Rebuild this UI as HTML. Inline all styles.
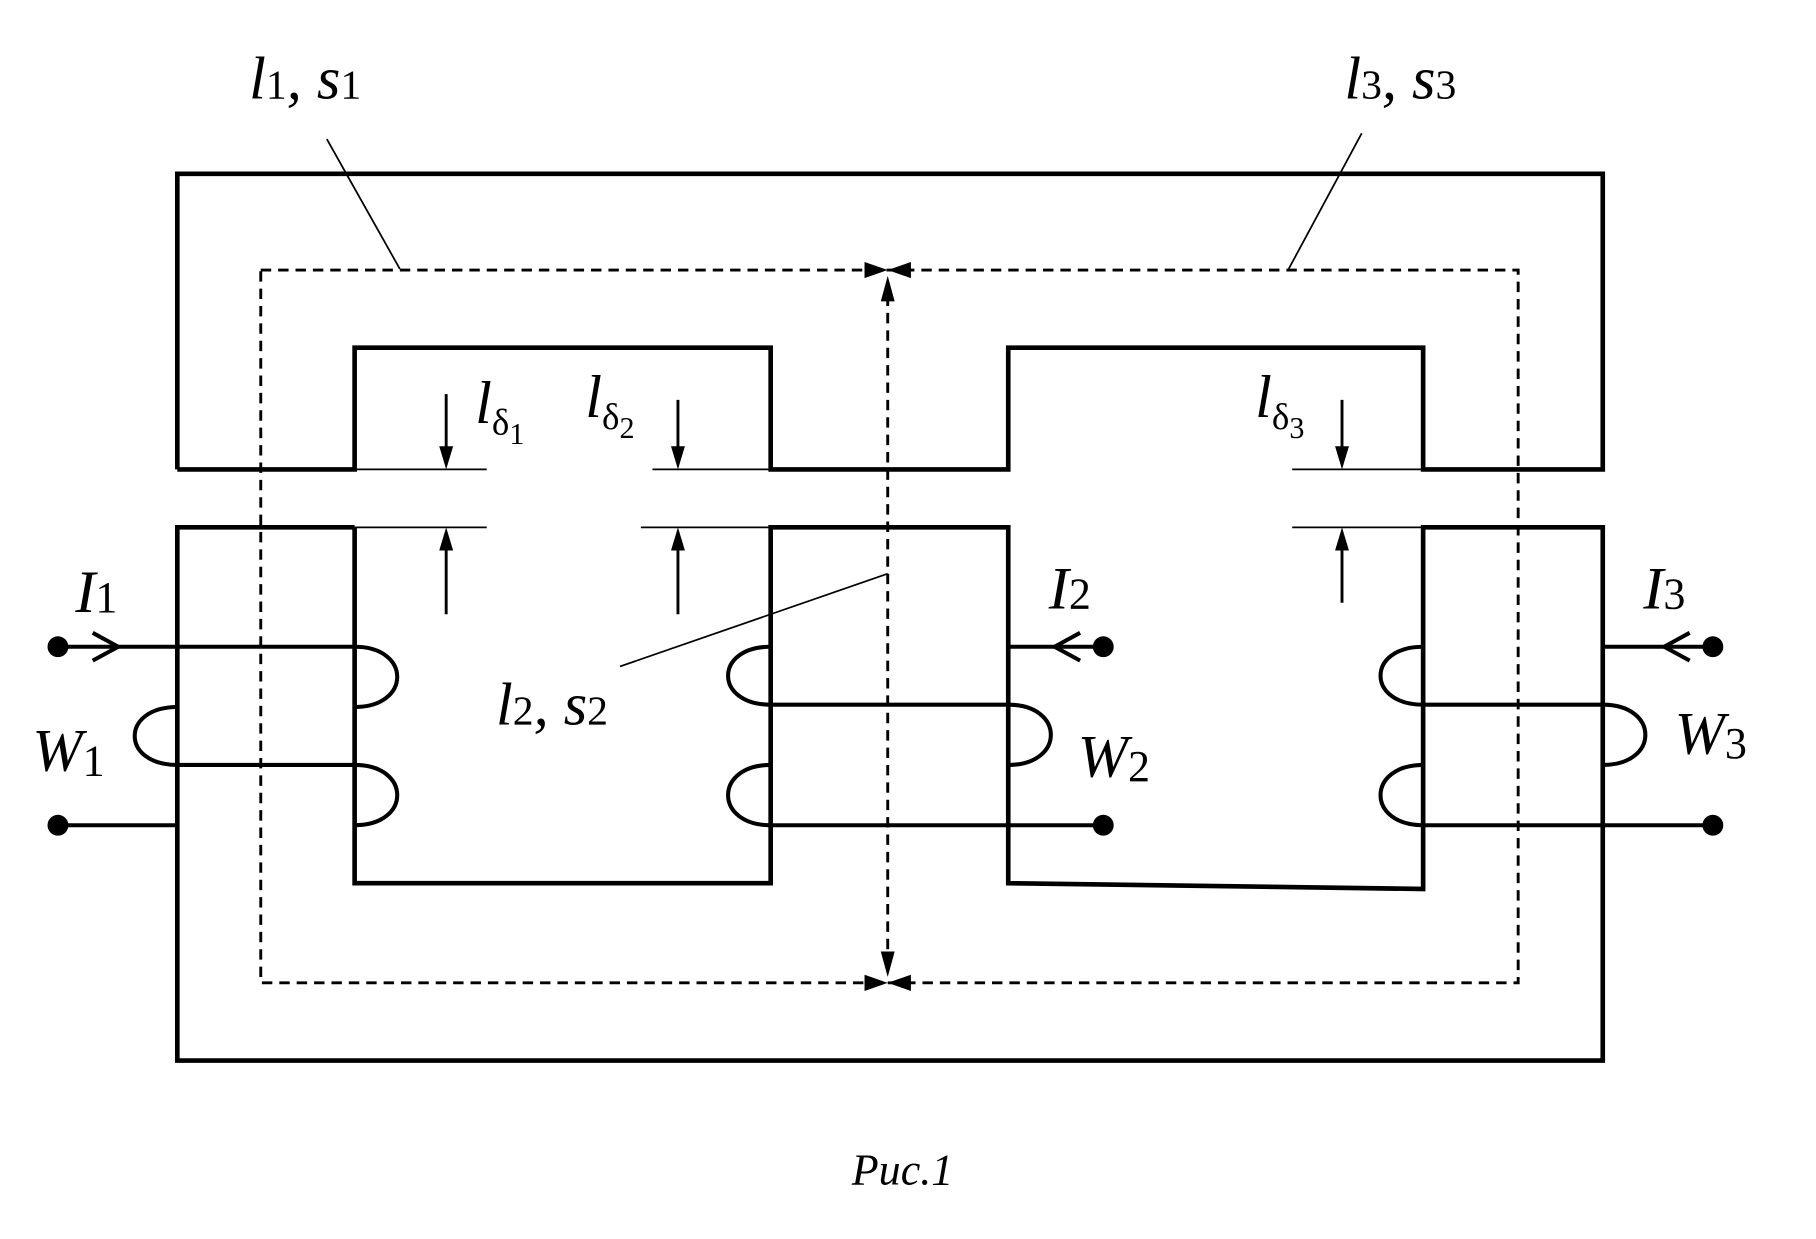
<!DOCTYPE html>
<html><head><meta charset="utf-8"><style>html,body{margin:0;padding:0;background:#fff}svg{display:block}</style></head>
<body>
<svg width="1816" height="1239" viewBox="0 0 1567 1069" preserveAspectRatio="none" xmlns="http://www.w3.org/2000/svg">
<g fill="none" stroke="#000" stroke-width="4">
<polyline points="153,405 153,150 1383,150 1383,405 1228,405 1228,300 870,300 870,405 665,405 665,300 306,300 306,405 153,405"/>
<polyline points="306,455 153,455 153,915 1383,915 1383,455 1228,455 1228,767 870,762 870,455 665,455 665,762 306,762 306,455"/>
</g>
<g stroke="#000" stroke-width="1.5">
<line x1="306" y1="405" x2="420" y2="405"/><line x1="563" y1="405" x2="665" y2="405"/><line x1="1115" y1="405" x2="1228" y2="405"/>
<line x1="306" y1="455" x2="420" y2="455"/><line x1="553" y1="455" x2="665" y2="455"/><line x1="1115" y1="455" x2="1228" y2="455"/>
<line x1="282" y1="120" x2="345" y2="232"/><line x1="1175" y1="115" x2="1112" y2="232"/><line x1="766" y1="495" x2="535" y2="575"/>
</g>
<g fill="none" stroke="#000" stroke-width="2.5" stroke-dasharray="9,6">
<rect x="225" y="233" width="1085" height="615"/>
<line x1="766" y1="255" x2="766" y2="830"/>
</g>
<g stroke="#000" stroke-width="2.5">
<line x1="385" y1="340" x2="385" y2="395"/><line x1="385" y1="530" x2="385" y2="465"/>
<line x1="585" y1="345" x2="585" y2="395"/><line x1="585" y1="530" x2="585" y2="465"/>
<line x1="1158" y1="345" x2="1158" y2="395"/><line x1="1158" y1="520" x2="1158" y2="465"/>
</g>
<g fill="#000">
<polygon points="385,405 379,385 391,385"/><polygon points="385,455 379,475 391,475"/>
<polygon points="585,405 579,385 591,385"/><polygon points="585,455 579,475 591,475"/>
<polygon points="1158,405 1152,385 1164,385"/><polygon points="1158,455 1152,475 1164,475"/>
<polygon points="766,238 760,260 772,260"/><polygon points="766,843 760,821 772,821"/>
<polygon points="766,233 746,226 746,240"/><polygon points="766,233 786,226 786,240"/>
<polygon points="766,848 746,841 746,855"/><polygon points="766,848 786,841 786,855"/>
<circle cx="50" cy="558" r="9"/><circle cx="50" cy="712" r="9"/>
<circle cx="952" cy="558" r="9"/><circle cx="952" cy="712" r="9"/>
<circle cx="1478" cy="558" r="9"/><circle cx="1478" cy="712" r="9"/>
</g>
<g fill="none" stroke="#000" stroke-width="3.5">
<line x1="50" y1="558" x2="306" y2="558"/><line x1="153" y1="660" x2="306" y2="660"/><line x1="50" y1="712" x2="153" y2="712"/>
<polyline points="80,546 102,558 80,570"/>
<path d="M306,558 C355,558 355,610 306,610"/><path d="M153,610 C104,610 104,660 153,660"/><path d="M306,660 C355,660 355,712 306,712"/>
<line x1="870" y1="558" x2="952" y2="558"/><polyline points="932,546 910,558 932,570"/>
<path d="M665,558 C616,558 616,608 665,608"/><line x1="665" y1="608" x2="870" y2="608"/>
<path d="M870,608 C919,608 919,660 870,660"/><path d="M665,660 C616,660 616,712 665,712"/><line x1="665" y1="712" x2="952" y2="712"/>
<line x1="1383" y1="558" x2="1478" y2="558"/><polyline points="1458,546 1436,558 1458,570"/>
<path d="M1228,558 C1179,558 1179,608 1228,608"/><line x1="1228" y1="608" x2="1383" y2="608"/>
<path d="M1383,608 C1432,608 1432,660 1383,660"/><path d="M1228,660 C1179,660 1179,712 1228,712"/><line x1="1228" y1="712" x2="1478" y2="712"/>
</g>
<g font-family="Liberation Serif, serif" font-style="italic" fill="#000" font-size="52">
<text x="215" y="85">l<tspan font-size="36" font-style="normal">1</tspan>, s<tspan font-size="36" font-style="normal">1</tspan></text>
<text x="1160" y="85">l<tspan font-size="36" font-style="normal">3</tspan>, s<tspan font-size="36" font-style="normal">3</tspan></text>
<text x="428" y="625">l<tspan font-size="36" font-style="normal">2</tspan>, s<tspan font-size="36" font-style="normal">2</tspan></text>
<text x="410" y="365">l<tspan font-size="32" font-style="normal" dy="10">δ</tspan><tspan font-size="26" font-style="normal" dy="8">1</tspan></text>
<text x="505" y="360">l<tspan font-size="32" font-style="normal" dy="10">δ</tspan><tspan font-size="26" font-style="normal" dy="8">2</tspan></text>
<text x="1083" y="360">l<tspan font-size="32" font-style="normal" dy="10">δ</tspan><tspan font-size="26" font-style="normal" dy="8">3</tspan></text>
<text x="65" y="528">I<tspan font-size="38" font-style="normal">1</tspan></text>
<text x="905" y="525">I<tspan font-size="38" font-style="normal">2</tspan></text>
<text x="1418" y="525">I<tspan font-size="38" font-style="normal">3</tspan></text>
<text x="28" y="665">W<tspan font-size="38" font-style="normal" dy="4">1</tspan></text>
<text x="930" y="670">W<tspan font-size="38" font-style="normal" dy="4">2</tspan></text>
<text x="1445" y="650">W<tspan font-size="38" font-style="normal" dy="4">3</tspan></text>
<text x="735" y="1022" font-size="38">Рис.1</text>
</g>
</svg>
</body></html>
